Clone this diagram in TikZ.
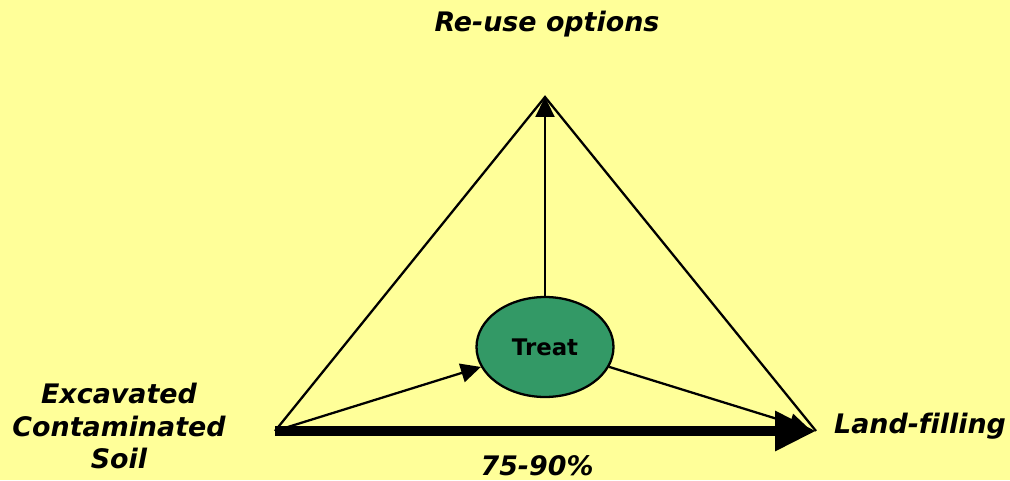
\documentclass[tikz,border=0pt]{standalone}
\usepackage{fontspec}
\setmainfont[Ligatures=NoCommon]{DejaVu Sans}
\usepackage{tikz}
\usetikzlibrary{arrows.meta,shapes.geometric}
\definecolor{paleyellow}{RGB}{255,255,153}
\definecolor{treatgreen}{RGB}{51,153,102}

\begin{document}
\begin{tikzpicture}[x=0.02cm,y=-0.02cm,line width=1.3pt,
  label/.style={font=\fontsize{15.3}{18.7}\selectfont\bfseries\itshape,align=center,inner sep=0pt},
  thin arrow/.style={-{Triangle[length=0.4cm,width=0.38cm]}}]
\useasboundingbox[fill=paleyellow] (0,0) rectangle (1010,480);
% corners of the triangle
\coordinate (top) at (545,97);
\coordinate (left) at (275,431);
\coordinate (right) at (816,431);
\node[ellipse,draw,fill=treatgreen,minimum width=2.74cm,minimum height=2cm,inner sep=0pt,
  font=\fontsize{13}{14}\selectfont\bfseries] (treat) at (545,347) {Treat};
% labels
\node[label] (reuse) at (547,24) {Re-use options};
\node[label] (soil) at (119,426) {Excavated\\Contaminated\\Soil};
\node[label] (landfill) at (920,426) {Land-filling};
\node[label] (share) at (537,466) {75-90\%};
% triangle and flows
\draw (left) -- (top) -- (right);
\draw[thin arrow] (treat) -- (top);
\draw[thin arrow] (left) -- (treat);
\draw[thin arrow,shorten >=4pt] (treat) -- (right);
\draw[line width=5.3pt,-{Triangle[length=0.82cm,width=0.76cm]}] (left) -- (right);
\end{tikzpicture}
\end{document}
